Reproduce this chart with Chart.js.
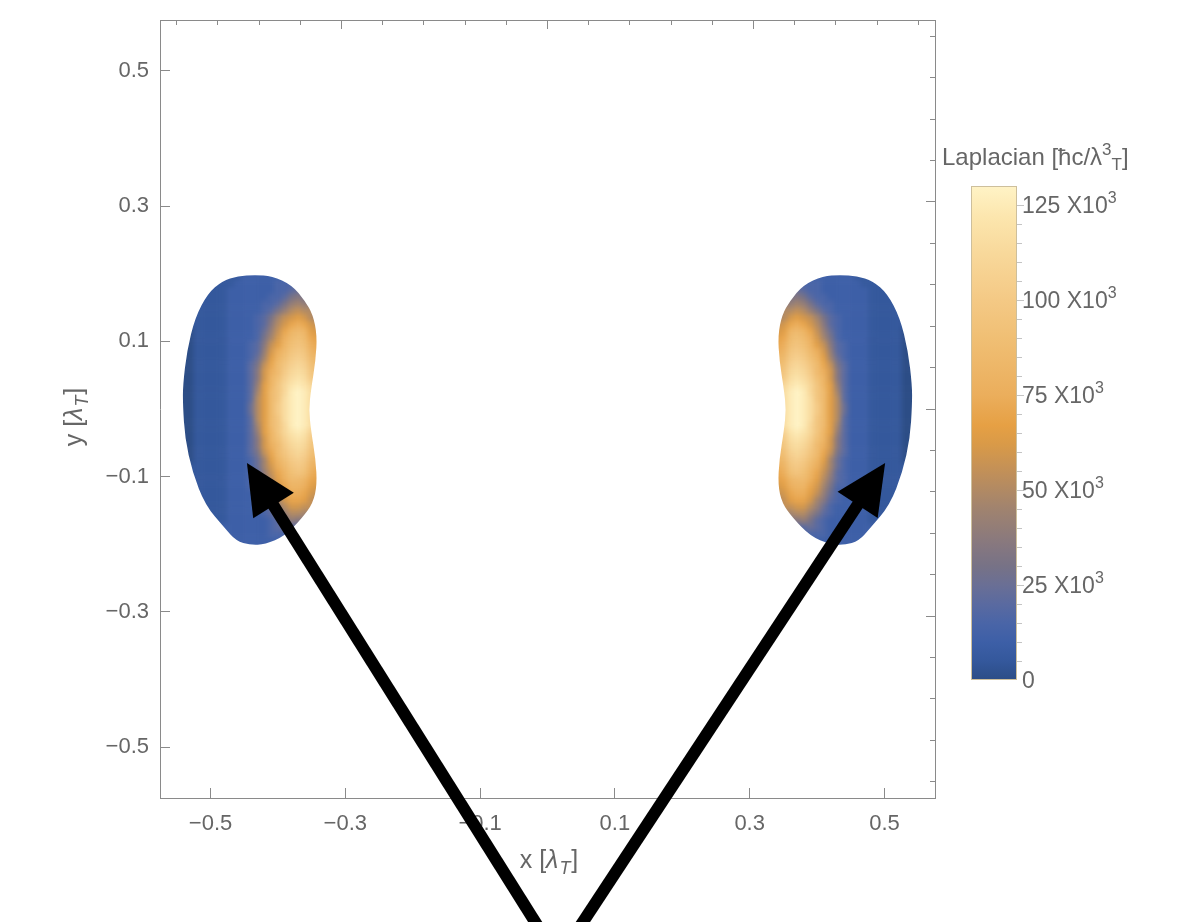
<!DOCTYPE html>
<html>
<head>
<meta charset="utf-8">
<script src="https://cdn.jsdelivr.net/npm/chart.js@4.4.1/dist/chart.umd.min.js"></script>
<style>
  html, body { margin: 0; padding: 0; background: #fff; }
  canvas { display: block; }
</style>
</head>
<body>
<canvas id="grafico" width="1194" height="922"></canvas>
<script>
// ---- datos ----
const plotRange = [-0.575, 0.575]
const xTicks = [-0.5, -0.3, -0.1, 0.1, 0.3, 0.5]
const yTicks = [-0.5, -0.3, -0.1, 0.1, 0.3, 0.5]
// marcas sin etiqueta en el marco superior / derecho
const frameMajor = [-0.306, 0, 0.306]
const frameMinor = [-0.551, -0.490, -0.428, -0.367, -0.245, -0.184, -0.122, -0.061,
                    0.061, 0.122, 0.184, 0.245, 0.367, 0.428, 0.490, 0.551]

// centros de celda (celdas de 0.01 lambda_T)
const cellSize = 0.01
const leftLobeX = [-0.55, -0.54, -0.53, -0.52, -0.51, -0.50, -0.49, -0.48, -0.47, -0.46, -0.45,
                   -0.44, -0.43, -0.42, -0.41, -0.40, -0.39, -0.38, -0.37, -0.36, -0.35, -0.34]
// el lobulo derecho es el espejo del izquierdo
const rightLobeX = [0.55, 0.54, 0.53, 0.52, 0.51, 0.50, 0.49, 0.48, 0.47, 0.46, 0.45,
                    0.44, 0.43, 0.42, 0.41, 0.40, 0.39, 0.38, 0.37, 0.36, 0.35, 0.34]
const lobeY = [0.205, 0.195, 0.185, 0.175, 0.165, 0.155, 0.145, 0.135, 0.125, 0.115, 0.105,
               0.095, 0.085, 0.075, 0.065, 0.055, 0.045, 0.035, 0.025, 0.015, 0.005,
               -0.005, -0.015, -0.025, -0.035, -0.045, -0.055, -0.065, -0.075, -0.085, -0.095,
               -0.105, -0.115, -0.125, -0.135, -0.145, -0.155, -0.165, -0.175, -0.185, -0.195, -0.205]
// nivel del laplaciano por celda: 0-9,a-q (1 nivel = 5 x10^3)
const levelStep = 5
const lobeRows = [
  '1111111111222222222222',
  '1111111111222222222222',
  '1111111112222223333333',
  '1111111122222223345555',
  '1111111122222233467665',
  '1111111122222334689887',
  '11111111222223468abaa9',
  '1111111122223469bcdca9',
  '111111112222347acefecb',
  '000111112222358beghgdc',
  '000111112222369cfhihed',
  '00011111222347bdgijife',
  '00011111222348cfhjkjgf',
  '00011111222359dgiklkhg',
  '0001111122246behjlmlih',
  '0001111122247cfhkmnmji',
  '0001111122247cgilnonkj',
  '0001111122248dgjmopoml',
  '0001111122249dhjmpqpnm',
  '000111112224adhjnpqpnm',
  '000111112225adhknpqpnm',
  '000111112225adhknpqpnm',
  '000111112224adhjnpqpnm',
  '0001111122249dhjmpqpnm',
  '0001111122248dgjmopolk',
  '0001111122247cgilnonkj',
  '0001111122247cfhkmnmji',
  '0001111122246behjlmlih',
  '00011111222359dgiklkhg',
  '11111111222359cfhjkjgf',
  '11111111222348begijife',
  '11111111222347adfhhged',
  '111111112223369ceggfdc',
  '111111112222358bdffecb',
  '1111111122223479ceedba',
  '1111111122222358accbba',
  '11111111222223468aa998',
  '1111111122222234687776',
  '2222222222222234544443',
  '2222222222222233333333',
  '2222222222222222222222',
  '2222222222222222222222'
]
// contorno del lobulo izquierdo [x, y]
const leftOutline = [
  [-0.434, 0.198], [-0.409, 0.197], [-0.379, 0.183], [-0.360, 0.160], [-0.348, 0.139],
  [-0.342, 0.109], [-0.344, 0.072], [-0.351, 0.028], [-0.354, -0.001], [-0.351, -0.031],
  [-0.344, -0.075], [-0.342, -0.112], [-0.348, -0.139], [-0.364, -0.161], [-0.390, -0.188],
  [-0.419, -0.200], [-0.441, -0.201], [-0.462, -0.195], [-0.479, -0.176], [-0.508, -0.142],
  [-0.527, -0.093], [-0.538, -0.043], [-0.541, 0.006], [-0.541, 0.035], [-0.535, 0.086],
  [-0.523, 0.135], [-0.504, 0.171], [-0.483, 0.189], [-0.459, 0.197]
]
const rightOutline = leftOutline.map(([x, y]) => [-x, y])

const colorbarTicks = [0, 25, 50, 75, 100, 125]
const colorbarMax = 130

// flechas: punta y cola en unidades de lambda_T
const arrowTips = [[-0.446, -0.080], [0.501, -0.080]]
const arrowTails = [[0.008, -0.80], [0.025, -0.80]]

// ---- estilo ----
const fontFamily = "'Liberation Sans', Arial, sans-serif"
const textGray = '#666'
const frameGray = '#8a8a8a'

const cmapStops = [
  [0, '#2c4d86'], [5, '#34589c'], [10, '#3d5fa7'], [15, '#4a65a7'], [20, '#5a6aa0'],
  [25, '#6a6f95'], [30, '#777286'], [35, '#857780'], [45, '#a0836f'], [55, '#c29058'],
  [62, '#d99a48'], [67, '#e6a044'], [75, '#ebae5c'], [90, '#f0bf74'], [100, '#f4c985'],
  [112, '#f8d89a'], [122, '#fce6ae'], [130, '#fff3c6']
]
const hexToRgb = h => [1, 3, 5].map(i => parseInt(h.substr(i, 2), 16))
const colorFor = v => {
  for (let i = 1; i < cmapStops.length; i++) {
    const [v1, c1] = cmapStops[i]
    if (v <= v1) {
      const [v0, c0] = cmapStops[i - 1]
      const t = (v - v0) / (v1 - v0)
      const a = hexToRgb(c0), b = hexToRgb(c1)
      return `rgb(${a.map((x, k) => Math.round(x + (b[k] - x) * t)).join(',')})`
    }
  }
  return cmapStops[cmapStops.length - 1][1]
}

const fmt = v => (v < 0 ? '\u2212' : '') + Math.abs(v).toFixed(1)

// celdas de ambos lobulos
const cells = []
lobeRows.forEach((row, r) => {
  [...row].forEach((ch, c) => {
    const v = parseInt(ch, 36) * levelStep
    cells.push({x: leftLobeX[c], y: lobeY[r], v})
    cells.push({x: rightLobeX[c], y: lobeY[r], v})
  })
})

const cellRadius = chart => {
  const s = chart.scales.x
  if (!s) return 5
  const side = Math.abs(s.getPixelForValue(cellSize) - s.getPixelForValue(0))
  return side / Math.SQRT2 + 0.35
}

// texto con subindices / superindices
const drawRich = (ctx, parts, x, y, size, align) => {
  const fontOf = p => {
    const small = p[1].includes('sub') || p[1].includes('sup')
    const s = small ? Math.round(size * 0.7) : size
    return (p[1].includes('i') ? 'italic ' : '') + s + 'px ' + fontFamily
  }
  let total = 0
  parts.forEach(p => { ctx.font = fontOf(p); total += ctx.measureText(p[0]).width })
  let cx = align === 'center' ? x - total / 2 : x
  ctx.textAlign = 'left'
  ctx.textBaseline = 'alphabetic'
  parts.forEach(p => {
    ctx.font = fontOf(p)
    let dy = 0
    if (p[1].includes('sup')) dy = -size * 0.42
    if (p[1].includes('sub')) dy = size * 0.22
    ctx.fillText(p[0], cx, y + dy)
    cx += ctx.measureText(p[0]).width + (p[1].includes('i') ? 1 : 0)
  })
}

// suaviza las celdas y recorta cada lobulo por su contorno
const smoothPlugin = {
  id: 'smooth',
  afterDatasetsDraw(chart) {
    const {ctx, canvas, scales: {x, y}} = chart
    ;[[leftLobeX, leftOutline], [rightLobeX, rightOutline]].forEach(([xs, outline]) => {
      const x0 = Math.floor(x.getPixelForValue(Math.min(...xs) - cellSize / 2))
      const x1 = Math.ceil(x.getPixelForValue(Math.max(...xs) + cellSize / 2))
      const y0 = Math.floor(y.getPixelForValue(Math.max(...lobeY) + cellSize / 2))
      const y1 = Math.ceil(y.getPixelForValue(Math.min(...lobeY) - cellSize / 2))
      const off = document.createElement('canvas')
      off.width = x1 - x0
      off.height = y1 - y0
      off.getContext('2d').drawImage(canvas, x0, y0, x1 - x0, y1 - y0, 0, 0, x1 - x0, y1 - y0)
      ctx.save()
      ctx.clearRect(x0, y0, x1 - x0, y1 - y0)
      // contorno suavizado por los puntos medios
      const pts = outline.map(([px, py]) => [x.getPixelForValue(px), y.getPixelForValue(py)])
      const n = pts.length
      const mid = (a, b) => [(a[0] + b[0]) / 2, (a[1] + b[1]) / 2]
      ctx.beginPath()
      const start = mid(pts[n - 1], pts[0])
      ctx.moveTo(start[0], start[1])
      pts.forEach((p, i) => {
        const m = mid(p, pts[(i + 1) % n])
        ctx.quadraticCurveTo(p[0], p[1], m[0], m[1])
      })
      ctx.closePath()
      ctx.clip()
      ctx.filter = 'blur(2.5px)'
      ctx.drawImage(off, x0, y0)
      ctx.restore()
    })
  }
}

const titlesPlugin = {
  id: 'titles',
  afterDraw(chart) {
    const {ctx} = chart
    ctx.save()
    ctx.fillStyle = textGray
    drawRich(ctx, [['x [', ''], ['\u03bb', 'i'], ['T', 'isub'], [']', '']], 548, 868, 25, 'center')
    ctx.translate(82, 418)
    ctx.rotate(-Math.PI / 2)
    drawRich(ctx, [['y [', ''], ['\u03bb', 'i'], ['T', 'isub'], [']', '']], 0, 0, 25, 'center')
    ctx.restore()
  }
}

const colorbarPlugin = {
  id: 'colorbar',
  afterDraw(chart) {
    const {ctx} = chart
    const left = 971, right = 1017, top = 186, bottom = 680
    const yOf = v => bottom - (v / colorbarMax) * (bottom - top)
    ctx.save()
    const g = ctx.createLinearGradient(0, bottom, 0, top)
    cmapStops.forEach(([v, c]) => g.addColorStop(v / colorbarMax, c))
    ctx.fillStyle = g
    ctx.fillRect(left, top, right - left, bottom - top)
    ctx.strokeStyle = '#cdbf9c'
    ctx.lineWidth = 1
    ctx.strokeRect(left + 0.5, top + 0.5, right - left - 1, bottom - top - 1)
    ctx.strokeStyle = '#c4c4c4'
    for (let v = 5; v < colorbarMax; v += 5) {
      const yy = Math.round(yOf(v)) + 0.5
      ctx.beginPath()
      ctx.moveTo(right, yy)
      ctx.lineTo(right + (v % 25 === 0 ? 7 : 5), yy)
      ctx.stroke()
    }
    ctx.fillStyle = textGray
    colorbarTicks.forEach(v => {
      const parts = v === 0 ? [['0', '']] : [[v + ' X10', ''], ['3', 'sup']]
      drawRich(ctx, parts, 1022, yOf(v) + 8, 23, 'left')
    })
    drawRich(ctx, [['Laplacian [\u0127c/\u03bb', ''], ['3', 'sup'], ['T', 'sub'], [']', '']], 942, 165, 24, 'left')
    ctx.restore()
  }
}

const arrowsPlugin = {
  id: 'arrows',
  afterDraw(chart) {
    const {ctx, scales: {x, y}} = chart
    ctx.save()
    ctx.fillStyle = '#000'
    ctx.strokeStyle = '#000'
    ctx.lineWidth = 12
    arrowTips.forEach((tip, i) => {
      const tail = arrowTails[i]
      const tx = x.getPixelForValue(tip[0]), ty = y.getPixelForValue(tip[1])
      const sx = x.getPixelForValue(tail[0]), sy = y.getPixelForValue(tail[1])
      const ang = Math.atan2(ty - sy, tx - sx)
      const headLen = 50, headHalf = 24
      const bx = tx - headLen * Math.cos(ang), by = ty - headLen * Math.sin(ang)
      ctx.beginPath()
      ctx.moveTo(sx, sy)
      ctx.lineTo(bx + 4 * Math.cos(ang), by + 4 * Math.sin(ang))
      ctx.stroke()
      ctx.beginPath()
      ctx.moveTo(tx, ty)
      ctx.lineTo(bx + headHalf * Math.sin(ang), by - headHalf * Math.cos(ang))
      ctx.lineTo(bx - headHalf * Math.sin(ang), by + headHalf * Math.cos(ang))
      ctx.closePath()
      ctx.fill()
    })
    ctx.restore()
  }
}

const noPad = s => { s.paddingTop = 0; s.paddingBottom = 0; s.paddingLeft = 0; s.paddingRight = 0 }
const tickFont = {family: fontFamily, size: 22}
const frameScale = (position, ticks, len, border) => ({
  type: 'linear',
  position,
  min: plotRange[0],
  max: plotRange[1],
  afterBuildTicks: s => { s.ticks = ticks.map(v => ({value: v})) },
  afterFit: s => { if (s.isHorizontal()) s.height = 0; else s.width = 0; noPad(s) },
  ticks: {display: false},
  grid: {drawOnChartArea: false, tickLength: -len, tickColor: frameGray, tickWidth: 1},
  border: {display: border, color: frameGray, width: 1}
})

const divGrafico = document.querySelector('#grafico')
const chart = new Chart(divGrafico, {
  type: 'scatter',
  data: {
    datasets: [{
      data: cells,
      pointStyle: 'rect',
      pointRadius: ctx => cellRadius(ctx.chart),
      pointHoverRadius: ctx => cellRadius(ctx.chart),
      backgroundColor: ctx => colorFor(ctx.raw ? ctx.raw.v : 0),
      borderWidth: 0
    }]
  },
  options: {
    responsive: false,
    devicePixelRatio: 1,
    animation: false,
    events: [],
    layout: {padding: {left: 0, top: 20, right: 259, bottom: 0}},
    plugins: {legend: {display: false}, tooltip: {enabled: false}},
    scales: {
      x: {
        type: 'linear',
        position: 'bottom',
        min: plotRange[0],
        max: plotRange[1],
        afterBuildTicks: s => { s.ticks = xTicks.map(v => ({value: v})) },
        afterFit: s => { s.height = 124; noPad(s) },
        ticks: {callback: fmt, color: textGray, font: tickFont, padding: 23, maxRotation: 0, autoSkip: false},
        grid: {drawOnChartArea: false, tickLength: -10, tickColor: frameGray, tickWidth: 1},
        border: {color: frameGray, width: 1}
      },
      y: {
        type: 'linear',
        position: 'left',
        min: plotRange[0],
        max: plotRange[1],
        afterBuildTicks: s => { s.ticks = yTicks.map(v => ({value: v})) },
        afterFit: s => { s.width = 160; noPad(s) },
        ticks: {callback: fmt, color: textGray, font: tickFont, padding: 21, autoSkip: false},
        grid: {drawOnChartArea: false, tickLength: -10, tickColor: frameGray, tickWidth: 1},
        border: {color: frameGray, width: 1}
      },
      xTop: frameScale('top', frameMajor, 9, true),
      xTopMinor: frameScale('top', frameMinor, 5, false),
      yRight: frameScale('right', frameMajor, 9, true),
      yRightMinor: frameScale('right', frameMinor, 5, false)
    }
  },
  plugins: [smoothPlugin, titlesPlugin, colorbarPlugin, arrowsPlugin]
})
</script>
</body>
</html>
